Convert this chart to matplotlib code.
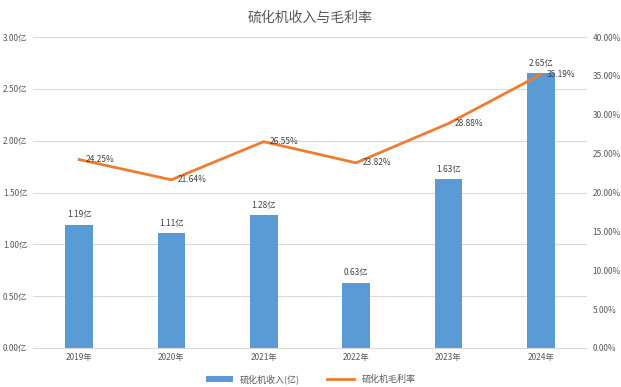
import matplotlib.pyplot as plt
from matplotlib.ticker import FuncFormatter

plt.rcParams['font.family'] = ['Noto Sans CJK SC', 'DejaVu Sans']

years = ['2019年', '2020年', '2021年', '2022年', '2023年', '2024年']
revenue = [1.19, 1.11, 1.28, 0.63, 1.63, 2.65]
margin = [24.25, 21.64, 26.55, 23.82, 28.88, 35.19]

grey = '#595959'
fig = plt.figure(figsize=(6.21, 3.87), dpi=100)
ax = fig.add_axes([0.053, 0.101, 0.892, 0.803])
ax2 = ax.twinx()

x = list(range(len(years)))
ax.bar(x, revenue, width=0.3, color='#5B9BD5', label='硫化机收入(亿)', zorder=2)
ax2.plot(x, margin, color='#ED7D31', linewidth=2, label='硫化机毛利率', zorder=3)

for xi, v in zip(x, revenue):
    ax.text(xi, v + 0.05, f'{v:.2f}亿', ha='center', va='bottom', fontsize=6, color='#404040')
for xi, m in zip(x, margin):
    ax2.text(xi + 0.07, m, f'{m:.2f}%', ha='left', va='center', fontsize=6, color='#404040')

ax.set_ylim(0, 3)
ax.set_yticks([i * 0.5 for i in range(7)])
ax.yaxis.set_major_formatter(FuncFormatter(lambda v, p: f'{v:.2f}亿'))
ax2.set_ylim(0, 40)
ax2.set_yticks(range(0, 41, 5))
ax2.yaxis.set_major_formatter(FuncFormatter(lambda v, p: f'{v:.2f}%'))
ax.set_xlim(-0.5, 5.5)
ax.set_xticks(x)
ax.set_xticklabels(years)

ax.grid(axis='y', color='#D9D9D9', linewidth=0.8, zorder=0)
for a in (ax, ax2):
    for s in a.spines.values():
        s.set_visible(False)
    a.tick_params(length=0, labelsize=6, colors=grey, pad=4)
ax.spines['bottom'].set_visible(True)
ax.spines['bottom'].set_color('#D9D9D9')

fig.text(0.5, 0.955, '硫化机收入与毛利率', ha='center', va='center', fontsize=10, color=grey)

h1, l1 = ax.get_legend_handles_labels()
h2, l2 = ax2.get_legend_handles_labels()
fig.legend(h1 + h2, l1 + l2, loc='center', bbox_to_anchor=(0.5, 0.02), ncol=2, frameon=False,
           fontsize=6.5, labelcolor=grey, handlelength=3, handleheight=0.6, columnspacing=3)

plt.savefig('out.png')
